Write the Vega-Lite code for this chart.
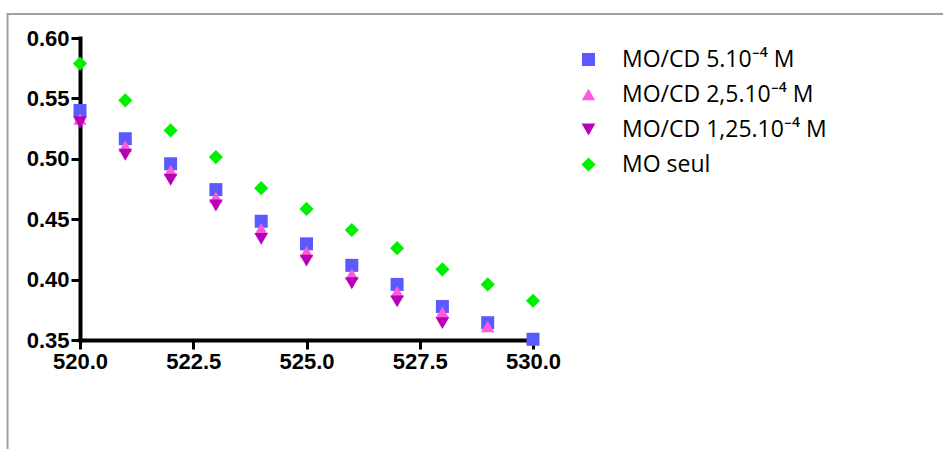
{
  "$schema": "https://vega.github.io/schema/vega-lite/v6.json",
  "autosize": {"type": "none"},
  "width": 453,
  "height": 302,
  "padding": {"left": 80, "top": 38, "right": 410, "bottom": 109},
  "background": "white",
  "config": {"view": {"stroke": null}},
  "datasets": {
    "pts": [
      {"series": "MO/CD 5.10⁻⁴ M", "wl": 520, "abs": 0.540},
      {"series": "MO/CD 5.10⁻⁴ M", "wl": 521, "abs": 0.5166},
      {"series": "MO/CD 5.10⁻⁴ M", "wl": 522, "abs": 0.4959},
      {"series": "MO/CD 5.10⁻⁴ M", "wl": 523, "abs": 0.4745},
      {"series": "MO/CD 5.10⁻⁴ M", "wl": 524, "abs": 0.4483},
      {"series": "MO/CD 5.10⁻⁴ M", "wl": 525, "abs": 0.4296},
      {"series": "MO/CD 5.10⁻⁴ M", "wl": 526, "abs": 0.4118},
      {"series": "MO/CD 5.10⁻⁴ M", "wl": 527, "abs": 0.396},
      {"series": "MO/CD 5.10⁻⁴ M", "wl": 528, "abs": 0.3777},
      {"series": "MO/CD 5.10⁻⁴ M", "wl": 529, "abs": 0.3643},
      {"series": "MO/CD 5.10⁻⁴ M", "wl": 530, "abs": 0.3506},
      {"series": "MO/CD 2,5.10⁻⁴ M", "wl": 520, "abs": 0.533},
      {"series": "MO/CD 2,5.10⁻⁴ M", "wl": 521, "abs": 0.5105},
      {"series": "MO/CD 2,5.10⁻⁴ M", "wl": 522, "abs": 0.4903},
      {"series": "MO/CD 2,5.10⁻⁴ M", "wl": 523, "abs": 0.4682},
      {"series": "MO/CD 2,5.10⁻⁴ M", "wl": 524, "abs": 0.442},
      {"series": "MO/CD 2,5.10⁻⁴ M", "wl": 525, "abs": 0.423},
      {"series": "MO/CD 2,5.10⁻⁴ M", "wl": 526, "abs": 0.4044},
      {"series": "MO/CD 2,5.10⁻⁴ M", "wl": 527, "abs": 0.39},
      {"series": "MO/CD 2,5.10⁻⁴ M", "wl": 528, "abs": 0.373},
      {"series": "MO/CD 2,5.10⁻⁴ M", "wl": 529, "abs": 0.3613},
      {"series": "MO/CD 1,25.10⁻⁴ M", "wl": 520, "abs": 0.530},
      {"series": "MO/CD 1,25.10⁻⁴ M", "wl": 521, "abs": 0.5033},
      {"series": "MO/CD 1,25.10⁻⁴ M", "wl": 522, "abs": 0.4826},
      {"series": "MO/CD 1,25.10⁻⁴ M", "wl": 523, "abs": 0.4613},
      {"series": "MO/CD 1,25.10⁻⁴ M", "wl": 524, "abs": 0.4337},
      {"series": "MO/CD 1,25.10⁻⁴ M", "wl": 525, "abs": 0.4157},
      {"series": "MO/CD 1,25.10⁻⁴ M", "wl": 526, "abs": 0.397},
      {"series": "MO/CD 1,25.10⁻⁴ M", "wl": 527, "abs": 0.382},
      {"series": "MO/CD 1,25.10⁻⁴ M", "wl": 528, "abs": 0.364},
      {"series": "MO seul", "wl": 520, "abs": 0.5788},
      {"series": "MO seul", "wl": 521, "abs": 0.5484},
      {"series": "MO seul", "wl": 522, "abs": 0.5235},
      {"series": "MO seul", "wl": 523, "abs": 0.5014},
      {"series": "MO seul", "wl": 524, "abs": 0.4757},
      {"series": "MO seul", "wl": 525, "abs": 0.4585},
      {"series": "MO seul", "wl": 526, "abs": 0.4411},
      {"series": "MO seul", "wl": 527, "abs": 0.426},
      {"series": "MO seul", "wl": 528, "abs": 0.4085},
      {"series": "MO seul", "wl": 529, "abs": 0.396},
      {"series": "MO seul", "wl": 530, "abs": 0.3825}
    ]
  },
  "layer": [
    {
      "data": {"values": [{}]},
      "mark": {"type": "rect", "fill": null, "stroke": "#a0a0a0", "strokeWidth": 2, "clip": false},
      "encoding": {
        "x": {"datum": 518.4, "type": "quantitative", "scale": {"domain": [520, 530], "nice": false, "zero": false}},
        "x2": {"datum": 550},
        "y": {"datum": 0.6198, "type": "quantitative", "scale": {"domain": [0.35, 0.6], "nice": false, "zero": false}},
        "y2": {"datum": 0.2}
      }
    },
    {
      "data": {"name": "pts"},
      "mark": {"type": "point", "filled": true, "opacity": 1, "clip": false},
      "encoding": {
        "x": {
          "field": "wl", "type": "quantitative",
          "scale": {"domain": [520, 530], "nice": false, "zero": false},
          "axis": {
            "title": null, "values": [520, 522.5, 525, 527.5, 530], "format": ".1f",
            "domainColor": "black", "domainWidth": 4, "domainCap": "square",
            "tickColor": "black", "tickWidth": 3, "tickSize": 9,
            "labelFont": "Liberation Sans", "labelFontWeight": "bold", "labelFontSize": 22, "labelColor": "black",
            "labelPadding": 2, "grid": false, "labelFlush": false, "labelOverlap": false
          }
        },
        "y": {
          "field": "abs", "type": "quantitative",
          "scale": {"domain": [0.35, 0.6], "nice": false, "zero": false},
          "axis": {
            "title": null, "values": [0.35, 0.4, 0.45, 0.5, 0.55, 0.6], "format": ".2f",
            "domainColor": "black", "domainWidth": 4, "domainCap": "square",
            "tickColor": "black", "tickWidth": 3, "tickSize": 9,
            "labelFont": "Liberation Sans", "labelFontWeight": "bold", "labelFontSize": 22, "labelColor": "black",
            "labelPadding": 2, "grid": false, "labelFlush": false, "labelOverlap": false
          }
        },
        "color": {
          "field": "series", "type": "nominal",
          "scale": {
            "domain": ["MO/CD 5.10⁻⁴ M", "MO/CD 2,5.10⁻⁴ M", "MO/CD 1,25.10⁻⁴ M", "MO seul"],
            "range": ["#5a5aff", "#ff5ad8", "#b800b8", "#00f000"]
          },
          "legend": {
            "title": null, "orient": "none", "legendX": 497, "legendY": 10, "padding": 0,
            "labelFont": "Open Sans", "labelFontSize": 23, "labelColor": "black", "labelOffset": 22,
            "labelLimit": 400, "rowPadding": 11, "symbolStrokeWidth": 0
          }
        },
        "shape": {
          "field": "series", "type": "nominal",
          "scale": {
            "domain": ["MO/CD 5.10⁻⁴ M", "MO/CD 2,5.10⁻⁴ M", "MO/CD 1,25.10⁻⁴ M", "MO seul"],
            "range": ["square", "triangle-up", "triangle-down", "diamond"]
          }
        },
        "size": {
          "field": "series", "type": "nominal",
          "scale": {
            "domain": ["MO/CD 5.10⁻⁴ M", "MO/CD 2,5.10⁻⁴ M", "MO/CD 1,25.10⁻⁴ M", "MO seul"],
            "range": [169, 200, 200, 150]
          }
        }
      }
    }
  ]
}
